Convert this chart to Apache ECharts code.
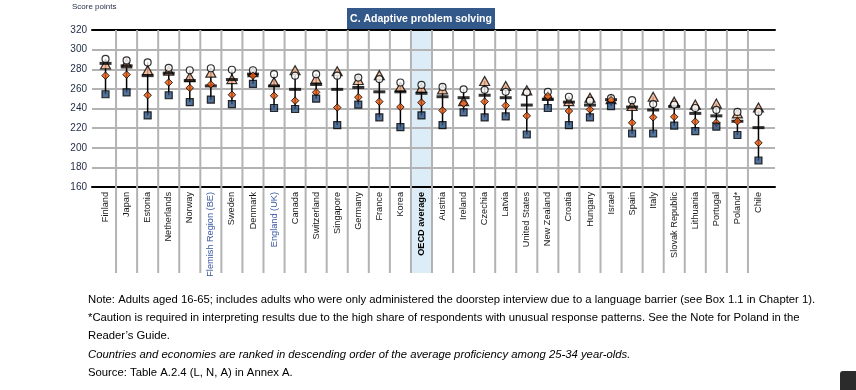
<!DOCTYPE html>
<html>
<head>
<meta charset="utf-8">
<script src="https://cdn.jsdelivr.net/npm/echarts@6/dist/echarts.min.js"></script>
<style>html,body{margin:0;padding:0;background:#fff;}#c{width:856px;height:390px;}</style>
</head>
<body>
<div id="c"></div>
<script>
const categories = ["Finland","Japan","Estonia","Netherlands","Norway","Flemish Region (BE)","Sweden","Denmark","England (UK)","Canada","Switzerland","Singapore","Germany","France","Korea","OECD average","Austria","Ireland","Czechia","Latvia","United States","New Zealand","Croatia","Hungary","Israel","Spain","Italy","Slovak Republic","Lithuania","Portugal","Poland*","Chile"];
const yTicks = [160,180,200,220,240,260,280,300,320];
const age25_34 = [290.5,289,287,281.5,279,281,279.5,279,275,273.5,275,273.5,271.5,270,266.5,264,262,259.5,259,257,256.5,257,252,248,250.5,248.5,244.5,244,240.5,238.5,236.5,236.5];
const age16_24 = [285,286,279,278.5,272,276.5,270,277,267,279,270.5,278,269,274,262,261,259.5,247.5,268,263,258.5,253,247.5,251,249.5,242.5,252,247,244,245,235,241];
const average = [286,283.5,273.5,276,268.5,263,269.5,275,263,259.5,264.5,259.5,261.5,257,257,255.5,252,251,253.5,251,243.5,249.5,246.5,243.5,249,241.5,238.5,242,235,232.5,227,220.5];
const age45_54 = [273.5,274.5,253.5,266.5,261,264.5,254,273.5,253,248,256.5,241,251.5,247,241.5,246,238,245,247,243,232.5,252.5,237.5,239,248.5,225.5,231,231.5,226.5,225.5,227,205];
const age55_65 = [254.5,256.5,233,253.5,246.5,249,244.5,265,240.5,239.5,250,223,244,231,221,233,223,236,231,232,213.5,240.5,223,231,242.5,214.5,214.5,222.5,217,221.5,213,187];
const highlightCat = "OECD average";
const subnational = ["Flemish Region (BE)","England (UK)"];

const chart = echarts.init(document.getElementById('c'), null, {renderer:'canvas'});
const idx = categories.map((c,i)=>i);
const rangeData = idx.map(i => {
  const vals = [age25_34[i],age16_24[i],average[i],age45_54[i],age55_65[i]];
  return [i, Math.min(...vals), Math.max(...vals)];
});
const hiIdx = categories.indexOf(highlightCat);
const font = 'Liberation Sans, Arial, sans-serif';
const ext = 86;

function pts(arr){ return arr.map((v,i)=>[i,v]); }

const option = {
  animation:false,
  backgroundColor:'#fff',
  grid:[
    {left:92, right:81, top:30, bottom:203, containLabel:false},
    {left:95, right:87, top:30, bottom:203, containLabel:false}
  ],
  xAxis:[
    {gridIndex:0, type:'value', min:0, max:1, show:true, position:'bottom',
     axisLine:{show:true, onZero:false, lineStyle:{color:'#000', width:2}}, axisTick:{show:false}, axisLabel:{show:false}, splitLine:{show:false}},
    {gridIndex:0, type:'value', min:0, max:1, show:true, position:'top',
     axisLine:{show:true, onZero:false, lineStyle:{color:'#000', width:2}}, axisTick:{show:false}, axisLabel:{show:false}, splitLine:{show:false}},
    {gridIndex:1, type:'category', data:categories, boundaryGap:true,
     axisLine:{show:false}, axisTick:{show:false}, splitLine:{show:false},
     axisLabel:{interval:0, rotate:90, margin:5, fontFamily:font, fontSize:9.2,
       color:(v)=> subnational.indexOf(v)>=0 ? '#3a58a0' : '#1a1a1a',
       formatter:(v)=> v===highlightCat ? '{b|'+v+'}' : v,
       rich:{b:{fontWeight:'bold', fontFamily:font, fontSize:9.2, color:'#000'}}}}
  ],
  yAxis:[
    {gridIndex:0, type:'value', min:yTicks[0], max:yTicks[yTicks.length-1], interval:20,
     axisLine:{show:false}, axisTick:{show:false},
     axisLabel:{fontFamily:font, fontSize:10, color:'#1f2a44', margin:5},
     splitLine:{show:true, lineStyle:{color:'#b3b3b3', width:2}}},
    {gridIndex:1, type:'value', min:yTicks[0], max:yTicks[yTicks.length-1], interval:20, show:false}
  ],
  series:[
    {type:'custom', xAxisIndex:2, yAxisIndex:1, z:-1, clip:false, silent:true,
     data:[[hiIdx]],
     renderItem:(params, api)=>{
       const top = api.coord([api.value(0), yTicks[yTicks.length-1]]);
       const bot = api.coord([api.value(0), yTicks[0]]);
       const w = api.size([1,0])[0];
       return {type:'rect', shape:{x:top[0]-w/2, y:top[1], width:w, height:bot[1]-top[1]+ext}, style:{fill:'#dcedf8'}};
     }},
    {type:'custom', xAxisIndex:2, yAxisIndex:1, z:1, clip:false, silent:true,
     data:idx.slice(1).map(i=>[i]),
     renderItem:(params, api)=>{
       const top = api.coord([api.value(0), yTicks[yTicks.length-1]]);
       const bot = api.coord([api.value(0), yTicks[0]]);
       const w = api.size([1,0])[0];
       const x = top[0]-w/2;
       return {type:'line', shape:{x1:x, y1:top[1], x2:x, y2:bot[1]+ext}, style:{stroke:'#b3b3b3', lineWidth:2}};
     }},
    {type:'custom', xAxisIndex:2, yAxisIndex:1, z:3, silent:true,
     data:rangeData,
     renderItem:(params, api)=>{
       const lo = api.coord([api.value(0), api.value(1)]);
       const hi = api.coord([api.value(0), api.value(2)]);
       return {type:'line', shape:{x1:lo[0], y1:lo[1], x2:hi[0], y2:hi[1]}, style:{stroke:'#000', lineWidth:1.5}};
     }},
    {name:'16-24', type:'scatter', xAxisIndex:2, yAxisIndex:1, z:4, data:pts(age16_24), symbol:'triangle', symbolSize:[10,9],
     itemStyle:{color:'#f4b28c', borderColor:'#000', borderWidth:1.2}},
    {name:'Average', type:'scatter', xAxisIndex:2, yAxisIndex:1, z:5, data:pts(average), symbol:'rect', symbolSize:[12,3],
     itemStyle:{color:'#000'}},
    {name:'25-34', type:'scatter', xAxisIndex:2, yAxisIndex:1, z:6, data:pts(age25_34), symbol:'circle', symbolSize:7,
     itemStyle:{color:'#fff', borderColor:'#000', borderWidth:1.2}},
    {name:'45-54', type:'scatter', xAxisIndex:2, yAxisIndex:1, z:7, data:pts(age45_54), symbol:'diamond', symbolSize:[7.5,7.5],
     itemStyle:{color:'#e8580c', borderColor:'#000', borderWidth:1}},
    {name:'55-65', type:'scatter', xAxisIndex:2, yAxisIndex:1, z:8, data:pts(age55_65), symbol:'rect', symbolSize:7,
     itemStyle:{color:'#2a4f7e', borderColor:'#000', borderWidth:1.2}}
  ],
  graphic:[
    {type:'text', left:72, top:3, style:{text:'Score points', font:'8px '+font, fill:'#1f2a44'}},
    {type:'group', left:347, top:8, children:[
      {type:'rect', shape:{x:0,y:0,width:148,height:22}, style:{fill:'#33598a'}},
      {type:'text', x:74, y:11, style:{text:'C. Adaptive problem solving', font:'bold 10.5px '+font, fill:'#fff', textAlign:'center', textVerticalAlign:'middle'}}
    ]},
    {type:'text', left:88, top:294, style:{text:'Note: Adults aged 16-65; includes adults who were only administered the doorstep interview due to a language barrier (see Box 1.1 in Chapter 1).', font:'11.3px '+font, fill:'#000'}},
    {type:'text', left:88, top:312, style:{text:'*Caution is required in interpreting results due to the high share of respondents with unusual response patterns. See the Note for Poland in the', font:'11.3px '+font, fill:'#000'}},
    {type:'text', left:88, top:330, style:{text:'Reader\u2019s Guide.', font:'11.3px '+font, fill:'#000'}},
    {type:'text', left:88, top:349, style:{text:'Countries and economies are ranked in descending order of the average proficiency among 25-34 year-olds.', font:'italic 11.3px '+font, fill:'#000'}},
    {type:'text', left:88, top:367, style:{text:'Source: Table A.2.4 (L, N, A) in Annex A.', font:'11.3px '+font, fill:'#000'}},
    {type:'rect', left:840, top:371, shape:{x:0,y:0,width:22,height:22,r:3}, style:{fill:'#2b2b2b'}}
  ]
};
chart.setOption(option);
</script>
</body>
</html>
